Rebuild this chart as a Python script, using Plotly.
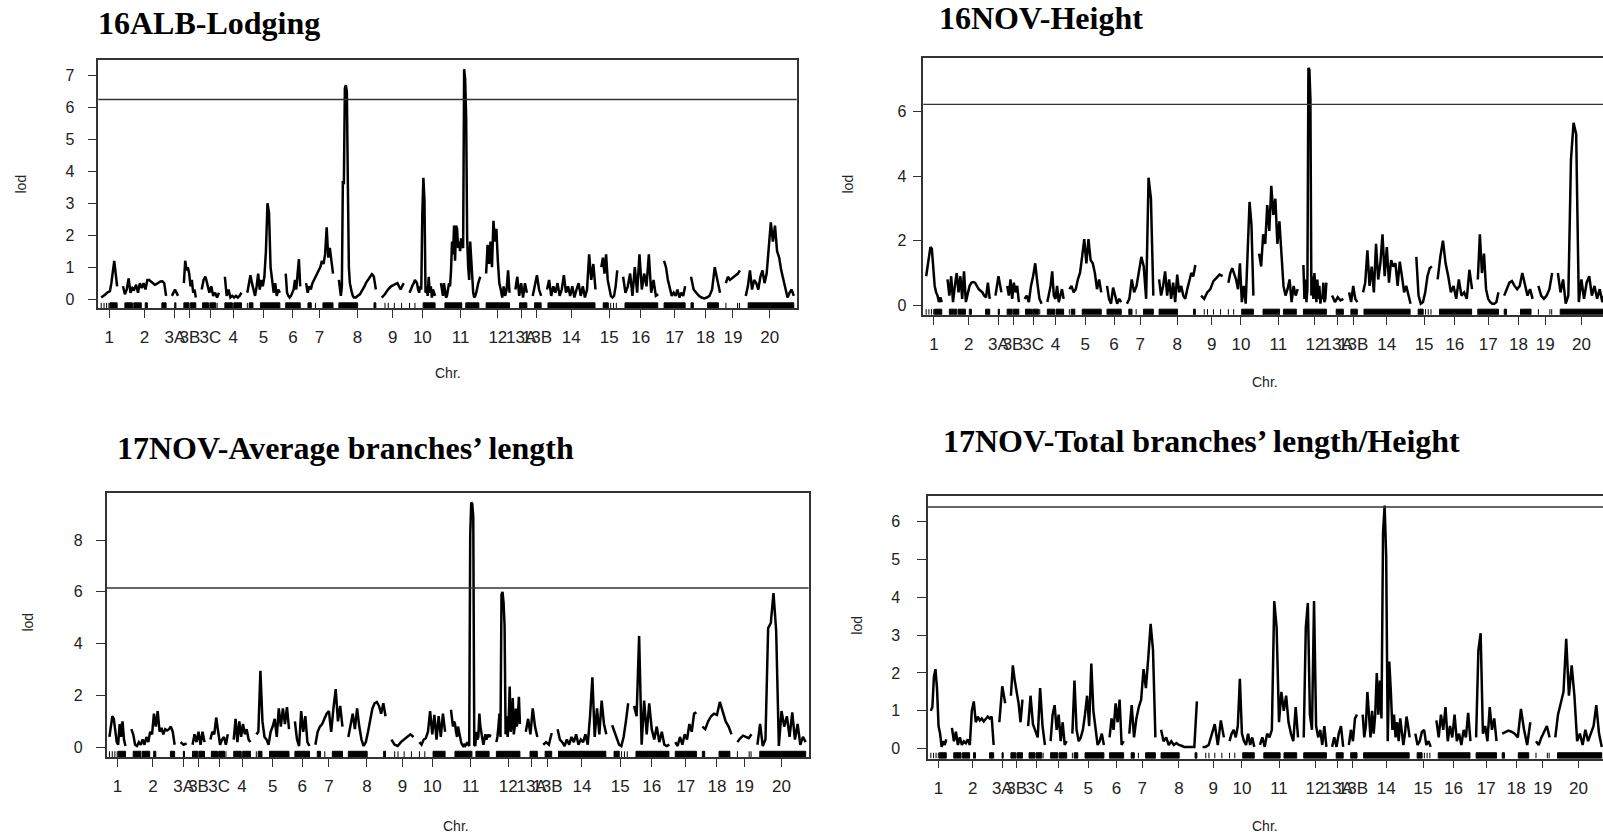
import plotly.graph_objects as go

W, H = 1603, 837

# ---- genetic map -----------------------------------------------------------
chromosomes = ["1", "2", "3A", "3B", "3C", "4", "5", "6", "7", "8", "9", "10",
               "11", "12", "13A", "13B", "14", "15", "16", "17", "18", "19", "20"]
chrom_length_cM = [68, 184, 26, 51, 74, 71, 139, 62, 115, 158, 94, 109,
                   168, 100, 49, 36, 207, 68, 150, 90, 124, 60, 205]
GAP_CM = 25

# marker clusters per chromosome, cM from chromosome start ([a, a] = single marker)
marker_clusters = [
    [[0, 0], [12, 12], [23, 23], [33, 33], [37, 68]],
    [[8, 40], [46, 78], [95, 104], [166, 184]],
    [[12, 17]],
    [[0, 22], [27, 51]],
    [[4, 30], [35, 60], [66, 66]],
    [[0, 32], [38, 71]],
    [[0, 0], [8, 24], [56, 139]],
    [[0, 62]],
    [[8, 22], [40, 40], [72, 115]],
    [[0, 80], [150, 158]],
    [[14, 14], [28, 28], [54, 54], [85, 85]],
    [[0, 0], [23, 23], [58, 109]],
    [[17, 89], [106, 162]],
    [[0, 100]],
    [[18, 49]],
    [[8, 36]],
    [[4, 205]],
    [[8, 30], [40, 40], [52, 52], [64, 64]],
    [[8, 148]],
    [[0, 90]],
    [[0, 10], [71, 117]],
    [[0, 0], [50, 50], [58, 58]],
    [[10, 205]],
]

# ---- LOD profiles, one list per chromosome (evenly spaced along it) -----------
lod_16alb_lodging = [
    [0.05, 0.08, 0.12, 0.15, 0.2, 0.22, 0.25, 0.5, 0.9, 1.2, 0.8, 0.4],
    [0.4, 0.15, 0.3, 0.65, 0.2, 0.35, 0.3, 0.45, 0.2, 0.5, 0.35, 0.5, 0.3, 0.6, 0.6, 0.55,
     0.5, 0.45, 0.48, 0.52, 0.55, 0.56, 0.5, 0.1],
    [0.1, 0.3, 0.1],
    [0.5, 1.2, 0.9, 1.0, 0.8, 0.4, 0.6, 0.2, 0.3, 0.05],
    [0.3, 0.6, 0.7, 0.4, 0.2, 0.4, 0.1, 0.2, 0.05, 0.2],
    [0.7, 0.1, 0.3, 0.05, 0.1, 0.05, 0.1, 0.05, 0.1, 0.2],
    [0.2, 0.5, 0.75, 0.5, 0.3, 0.1, 0.4, 0.8, 0.3, 0.6, 0.4, 0.7, 1.5, 3.0, 2.7, 1.0, 0.6,
     0.2, 0.5, 0.1, 0.3, 0.2],
    [0.8, 0.2, 0.1, 0.05, 0.1, 0.2, 0.3, 0.6, 0.3, 0.8, 1.25, 0.4],
    [0.5, 0.2, 0.4, 0.3, 0.5, 0.6, 0.7, 0.8, 0.9, 1.0, 1.2, 1.1, 1.4, 2.25, 1.3, 1.6, 1.2, 0.8],
    [0.6, 0.3, 0.1, 0.4, 3.7, 3.6, 6.6, 6.7, 6.5, 3.6, 1.0, 0.5, 0.3, 0.2, 0.1, 0.05, 0.05,
     0.05, 0.08, 0.1, 0.12, 0.15, 0.2, 0.25, 0.3, 0.35, 0.42, 0.5, 0.55, 0.6, 0.65, 0.7,
     0.75, 0.78, 0.75, 0.7, 0.5, 0.3],
    [0.05, 0.15, 0.3, 0.4, 0.45, 0.5, 0.3, 0.5],
    [0.2, 0.3, 0.35, 0.45, 0.5, 0.6, 0.55, 0.5, 0.3, 0.2, 0.4, 0.3, 2.7, 3.8, 3.1, 0.2, 0.4,
     0.1, 0.7, 0.2, 0.4, 0.05, 0.3, 0.2, 0.1],
    [0.5, 0.3, 0.1, 0.5, 0.2, 0.05, 0.1, 0.3, 0.5, 0.4, 0.9, 1.8, 1.4, 2.3, 1.2, 2.3, 2.2,
     1.6, 1.8, 1.5, 1.9, 1.7, 1.6, 7.2, 6.9, 5.7, 1.9, 1.0, 0.6, 1.8, 1.2, 0.5, 0.2, 0.05,
     0.1, 0.2, 0.4, 0.5, 0.6, 0.7],
    [0.8, 1.7, 1.1, 1.8, 1.0, 2.45, 1.8, 2.2, 1.2, 0.5, 0.3, 0.05, 0.4, 0.1, 0.3, 0.9, 0.2],
    [0.3, 0.7, 0.1, 0.5, 0.05, 0.5, 0.2],
    [0.1, 0.4, 0.75, 0.3, 0.1],
    [0.3, 0.6, 0.1, 0.4, 0.2, 0.5, 0.1, 0.3, 0.75, 0.2, 0.4, 0.1, 0.4, 0.05, 0.3, 0.5, 0.1,
     0.4, 0.05, 0.3, 1.4, 0.6, 1.1, 0.3],
    [1.0, 1.3, 0.8, 1.4, 0.6, 0.3, 0.1, 0.05, 0.1, 0.4, 0.9],
    [0.7, 0.2, 0.4, 0.8, 0.1, 1.0, 0.2, 1.4, 0.3, 0.8, 0.4, 1.4, 0.2, 0.6, 0.1, 0.15],
    [1.2, 1.0, 0.6, 0.3, 0.1, 0.2, 0.1, 0.3, 0.05, 0.2, 0.1, 0.4],
    [0.7, 0.3, 0.2, 0.1, 0.05, 0.02, 0.05, 0.1, 0.3, 1.0, 0.6, 0.2],
    [0.5, 0.7, 0.6, 0.65, 0.7, 0.75, 0.8, 0.9],
    [0.1, 0.4, 0.9, 0.3, 0.6, 0.5, 0.3, 0.7, 0.9, 0.5, 0.8, 1.5, 2.4, 1.8, 2.3, 1.5, 1.3,
     0.9, 0.6, 0.3, 0.05, 0.2, 0.3, 0.1],
]

lod_16nov_height = [
    [0.9, 1.2, 1.5, 1.8, 1.75, 1.2, 0.6, 0.4, 0.3, 0.1, 0.25, 0.1],
    [0.8, 0.3, 0.9, 0.1, 0.6, 1.0, 0.4, 0.9, 0.2, 1.05, 0.1, 0.4, 0.6, 0.7, 0.72, 0.7, 0.6,
     0.5, 0.45, 0.4, 0.3, 0.25, 0.7, 0.2],
    [0.3, 0.9, 0.4],
    [0.6, 0.3, 0.8, 0.2, 0.7, 0.4, 0.6, 0.1],
    [0.2, 0.3, 0.1, 0.6, 0.9, 1.3, 0.7, 0.2, 0.05],
    [0.1, 0.4, 0.6, 1.05, 0.3, 0.2, 0.6, 0.1, 0.3, 0.5, 0.2],
    [0.5, 0.6, 0.4, 0.5, 0.8, 1.0, 1.5, 2.05, 1.3, 2.05, 1.4, 1.3, 1.0, 0.5, 0.8, 0.4],
    [0.6, 0.2, 0.05, 0.55, 0.3, 0.05, 0.2, 0.1],
    [0.05, 0.2, 0.8, 0.4, 0.6, 1.0, 1.5, 1.2, 0.2, 3.95, 3.3, 0.3],
    [0.8, 0.3, 0.6, 1.05, 0.3, 0.8, 0.2, 0.7, 0.1, 0.95, 0.4, 0.6, 0.3, 0.2, 0.5, 0.8, 1.0,
     0.9, 1.25],
    [0.3, 0.2, 0.4, 0.5, 0.75, 0.85, 0.95, 0.9],
    [0.7, 1.0, 1.15, 1.0, 0.8, 0.5, 1.3, 0.1, 0.6, 0.05, 2.0, 3.2, 2.5, 0.3],
    [1.6, 1.2, 2.2, 1.9, 3.1, 2.3, 3.7, 2.8, 3.3, 1.9, 2.6, 1.4, 0.6, 0.3, 0.5, 0.8, 0.1,
     0.6, 0.3, 0.5],
    [1.25, 0.2, 0.8, 0.1, 0.5, 7.35, 7.3, 6.4, 0.3, 0.9, 0.2, 1.0, 0.5, 0.1, 0.8, 0.2, 0.6,
     0.05, 0.3, 0.2, 0.7, 0.1, 0.2, 0.7],
    [0.3, 0.1, 0.25, 0.15, 0.2],
    [0.4, 0.1, 0.6, 0.2, 0.1],
    [0.4, 0.7, 1.7, 0.6, 1.2, 0.4, 1.9, 0.8, 1.3, 2.2, 0.9, 1.8, 0.7, 1.4, 1.2, 1.3, 0.6,
     1.35, 0.9, 0.4, 0.6, 0.3, 0.05],
    [1.5, 0.3, 0.05, 0.1, 0.4, 0.9, 1.15, 1.2],
    [0.8, 1.5, 2.0, 1.3, 0.9, 0.4, 0.6, 0.2, 0.8, 0.3, 0.4, 0.2, 1.1, 0.5],
    [0.8, 2.2, 1.0, 1.6, 0.5, 0.2, 0.1, 0.05, 0.05, 0.1, 0.4],
    [0.3, 0.5, 0.7, 0.75, 0.6, 0.5, 0.6, 1.0, 0.6, 0.3, 0.5, 0.2],
    [0.6, 0.3, 0.2, 0.3, 0.5, 1.0],
    [1.0, 0.4, 0.8, 0.05, 0.3, 4.5, 5.65, 5.3, 0.1, 0.8, 0.2, 0.7, 0.9, 0.3, 0.6, 0.2, 0.5,
     0.1, 0.4],
]

lod_17nov_avg_branch = [
    [0.4, 0.8, 1.2, 1.1, 0.5, 0.2, 0.1, 0.9, 0.4, 1.0, 0.3, 0.05],
    [0.7, 0.5, 0.1, 0.05, 0.2, 0.1, 0.3, 0.1, 0.4, 0.2, 0.6, 0.5, 1.3, 0.8, 1.4, 0.6, 0.75,
     0.5, 0.7, 0.65, 0.7, 0.8, 0.6, 0.1],
    [0.2, 0.1, 0.15],
    [0.1, 0.5, 0.2, 0.6, 0.1, 0.6, 0.2],
    [0.3, 0.6, 0.5, 1.15, 0.6, 0.1, 0.3, 0.4, 0.1, 0.5],
    [0.3, 1.1, 0.2, 1.0, 0.4, 0.9, 0.5, 0.7, 0.3, 0.2],
    [0.5, 0.6, 2.95, 1.0, 0.4, 0.3, 0.1, 0.6, 0.8, 1.1, 0.4, 1.5, 0.8, 1.5, 0.9, 1.55, 0.7],
    [1.0, 0.3, 0.05, 1.4, 0.6, 1.2, 0.2, 0.05],
    [0.1, 0.6, 0.8, 0.9, 1.1, 1.3, 1.4, 0.6, 1.5, 2.25, 1.0, 1.6, 0.8],
    [0.4, 0.8, 1.3, 0.7, 1.5, 0.8, 0.3, 0.05, 0.2, 0.6, 1.1, 1.5, 1.7, 1.75, 1.6, 1.3, 1.7, 1.2],
    [0.3, 0.1, 0.05, 0.2, 0.3, 0.4, 0.5, 0.4],
    [0.2, 0.1, 0.3, 0.35, 0.6, 1.4, 0.5, 1.25, 0.3, 1.2, 0.4, 1.3, 0.6],
    [1.45, 1.2, 0.8, 1.0, 0.9, 0.6, 0.4, 0.8, 0.6, 0.3, 0.2, 0.1, 0.05, 0.1, 0.05, 0.1, 0.2,
     0.1, 0.05, 8.2, 9.45, 9.4, 8.9, 0.1, 0.05, 0.6, 0.3, 0.4, 1.3, 0.8, 0.5, 0.2, 0.1, 0.3,
     0.5, 0.3, 0.4, 0.5, 0.4, 0.5],
    [0.2, 0.4, 0.8, 1.3, 0.4, 5.9, 6.0, 5.6, 4.7, 0.5, 1.2, 0.4, 1.0, 2.35, 0.6, 0.9, 1.9,
     0.5, 0.8, 1.5, 0.8, 1.2, 1.95, 0.9],
    [0.6, 1.1, 0.5, 1.5, 0.8, 0.4],
    [0.1, 0.2, 0.1, 0.55],
    [0.7, 0.3, 0.2, 0.05, 0.3, 0.1, 0.4, 0.2, 0.5, 0.1, 0.3, 0.2, 0.5, 0.1, 1.2, 2.7, 0.4,
     1.5, 0.5, 1.8, 0.9, 0.5],
    [0.85, 0.6, 0.3, 0.1, 0.05, 0.4, 1.0, 1.7],
    [1.6, 1.2, 4.3, 0.1, 1.8, 0.5, 1.7, 0.7, 0.3, 0.8, 0.2, 0.6, 0.1, 0.05, 0.1],
    [0.2, 0.05, 0.4, 0.1, 0.5, 0.3, 0.9, 0.6, 1.3, 1.35],
    [0.8, 0.7, 1.0, 1.2, 1.3, 1.25, 1.75, 1.4, 1.0, 0.8, 0.5],
    [0.2, 0.35, 0.45, 0.4, 0.35, 0.5],
    [0.1, 0.9, 0.05, 0.3, 4.6, 4.8, 5.95, 4.5, 0.05, 1.4, 0.8, 1.2, 0.4, 1.35, 0.3, 0.9,
     0.1, 0.4, 0.2],
]

lod_17nov_total_branch_height = [
    [1.0, 1.1, 1.9, 2.1, 1.6, 0.6, 0.4, 0.05, 0.2, 0.1, 0.25],
    [0.55, 0.2, 0.45, 0.1, 0.3, 0.1, 0.2, 0.15, 0.25, 0.1, 1.0, 1.25, 0.7, 0.85, 0.75, 0.8,
     0.72, 0.8, 0.85, 0.8, 0.85, 0.1],
    [0.7, 1.65, 1.2],
    [1.4, 2.2, 1.8, 1.5, 1.2, 0.7, 1.3],
    [0.6, 1.4, 0.65, 0.5, 0.3, 1.6, 0.6, 0.1],
    [0.2, 0.9, 1.15, 0.5, 0.9, 0.2, 0.7, 0.1, 0.2],
    [0.4, 1.8, 0.5, 0.2, 0.3, 0.5, 0.9, 1.4, 0.6, 2.25, 1.0, 0.5, 0.1, 0.2, 0.4, 0.1],
    [0.3, 0.8, 0.5, 1.2, 0.7, 1.3, 0.1, 0.2],
    [0.4, 1.15, 0.3, 0.8, 1.1, 1.3, 2.1, 1.6, 2.4, 3.3, 2.6, 0.3],
    [0.5, 0.2, 0.3, 0.1, 0.2, 0.1, 0.15, 0.1, 0.08, 0.05, 0.05, 0.05, 0.05, 0.05, 1.25],
    [0.05, 0.05, 0.1, 0.4, 0.65, 0.1, 0.75, 0.3],
    [0.2, 0.4, 0.5, 0.3, 0.6, 1.85, 0.4, 0.2, 0.1, 0.4, 0.1, 0.3, 0.05],
    [0.1, 0.3, 0.05, 0.4, 0.3, 0.5, 3.9, 3.2, 0.7, 1.5, 1.0, 1.4, 0.7, 0.4, 0.2, 1.1, 0.3],
    [0.3, 3.2, 3.85, 0.9, 0.5, 3.9, 0.6, 0.3, 0.5, 0.1, 0.6, 0.05],
    [0.05, 0.3, 0.05, 0.4, 0.6, 0.05],
    [0.1, 0.5, 0.2, 0.8, 0.9],
    [0.9, 0.3, 0.6, 1.5, 0.9, 0.3, 1.0, 0.4, 0.9, 2.0, 0.9, 1.8, 0.8, 5.7, 6.42, 5.1, 0.2,
     2.3, 1.5, 0.5, 0.9, 0.3, 0.7, 0.2, 0.8, 0.5, 0.1, 0.4, 0.85, 0.6, 0.3],
    [0.4, 0.1, 0.2, 0.45, 0.5, 0.1, 0.2, 0.05],
    [0.75, 0.3, 0.9, 0.5, 1.1, 0.2, 0.6, 0.3, 0.9, 0.2, 0.4, 0.1, 0.5, 0.3, 0.95, 0.2],
    [0.3, 2.6, 3.05, 0.4, 0.6, 0.2, 1.1, 0.5, 0.8, 0.2],
    [0.4, 0.45, 0.48, 0.45, 0.4, 0.3, 1.05, 0.5, 0.1, 0.7],
    [0.2, 0.1, 0.3, 0.45, 0.6, 0.3],
    [0.3, 0.9, 1.2, 1.5, 2.9, 1.4, 2.2, 1.4, 0.2, 0.4, 0.1, 0.5, 0.2, 0.4, 0.6, 1.15, 0.4, 0.05],
]

titles = ["16ALB-Lodging", "16NOV-Height",
          "17NOV-Average branches\u2019 length",
          "17NOV-Total branches\u2019 length/Height"]
lod_thresholds = [6.25, 6.22, 6.15, 6.38]
y_tick_step = [1, 2, 2, 1]

# ---- panel frames (pixels) and text placement ------------------------------
panels = [
    dict(lod=lod_16alb_lodging, box=(98.3, 60.0, 796.7, 308.3), title_xy=(96, 23),
         ylab_xy=(20.5, 184), xlab_xy=(447.5, 373), ystand=10),
    dict(lod=lod_16nov_height, box=(923.3, 58.4, 1607.8, 314.8), title_xy=(937, 18),
         ylab_xy=(847.5, 184), xlab_xy=(1264.6, 382), ystand=3),
    dict(lod=lod_17nov_avg_branch, box=(106.5, 492.7, 808.6, 757.1), title_xy=(115, 448),
         ylab_xy=(27.6, 622), xlab_xy=(456, 826), ystand=10),
    dict(lod=lod_17nov_total_branch_height, box=(928.0, 495.8, 1604.6, 758.5),
         title_xy=(941, 441), ylab_xy=(856.7, 625), xlab_xy=(1264.6, 826), ystand=14),
]

# chromosome layout along the genome axis
starts = []
pos = 0.0
for L in chrom_length_cM:
    starts.append(pos)
    pos += L + GAP_CM
map_end = starts[-1] + chrom_length_cM[-1]
x_lo, x_hi = -GAP_CM / 2, map_end + GAP_CM / 2
mids = [s + L / 2 for s, L in zip(starts, chrom_length_cM)]

LINE = "#333333"
TXT = "#222222"
SANS = "Liberation Sans, Arial, sans-serif"
SERIF = "Liberation Serif, Times New Roman, serif"

fig = go.Figure()
layout = dict(width=W, height=H, margin=dict(l=0, r=0, t=0, b=0),
              paper_bgcolor="white", plot_bgcolor="white", showlegend=False)
annotations = []
shapes = []

for i, p in enumerate(panels):
    k = "" if i == 0 else str(i + 1)
    xa, ya = "x" + k, "y" + k
    left, top, right, bottom = p["box"]
    vis_right = min(right, W)
    frac = (vis_right - left) / (right - left)
    x_range = [x_lo, x_lo + (x_hi - x_lo) * frac]

    lod = p["lod"]
    ymax = max(max(c) for c in lod)
    y_range = [-0.04 * ymax, 1.04 * ymax]
    span = y_range[1] - y_range[0]

    # LOD curve, broken between chromosomes
    xs, ys = [], []
    for s, L, vals in zip(starts, chrom_length_cM, lod):
        n = len(vals)
        for j, v in enumerate(vals):
            xs.append(s + L * j / (n - 1))
            ys.append(v)
        xs.append(None)
        ys.append(None)
    fig.add_trace(go.Scatter(x=xs, y=ys, mode="lines", xaxis=xa, yaxis=ya,
                             line=dict(color="black", width=2.5), hoverinfo="skip"))

    # marker rug along the bottom
    r0, r1 = y_range[0], y_range[0] + 0.022 * span
    bx, by, tx, ty = [], [], [], []
    for s, clusters in zip(starts, marker_clusters):
        for a, b in clusters:
            if b > a:
                bx += [s + a, s + b, s + b, s + a, s + a, None]
                by += [r0, r0, r1, r1, r0, None]
            else:
                tx += [s + a, s + a, None]
                ty += [r0, r1, None]
    fig.add_trace(go.Scatter(x=bx, y=by, mode="lines", fill="toself", fillcolor="black",
                             line=dict(color="black", width=1), xaxis=xa, yaxis=ya,
                             hoverinfo="skip"))
    fig.add_trace(go.Scatter(x=tx, y=ty, mode="lines", line=dict(color="black", width=1),
                             xaxis=xa, yaxis=ya, hoverinfo="skip"))

    # significance threshold
    shapes.append(dict(type="line", xref=xa + " domain", yref=ya, x0=0, x1=1,
                       y0=lod_thresholds[i], y1=lod_thresholds[i],
                       line=dict(color=LINE, width=1.4)))

    layout["xaxis" + k] = dict(
        domain=[left / W, vis_right / W], range=x_range, anchor=ya,
        tickmode="array", tickvals=mids, ticktext=chromosomes, tickangle=0,
        ticks="outside", ticklen=8, tickwidth=1.2, tickcolor=LINE,
        tickfont=dict(family=SANS, size=17, color=TXT), ticklabelstandoff=5,
        showline=True, linecolor=LINE, linewidth=1.5, mirror=True,
        showgrid=False, zeroline=False, fixedrange=True)
    layout["yaxis" + k] = dict(
        domain=[1 - bottom / H, 1 - top / H], range=y_range, anchor=xa,
        tickmode="linear", tick0=0, dtick=y_tick_step[i],
        ticks="outside", ticklen=9, tickwidth=1.2, tickcolor=LINE,
        tickfont=dict(family=SANS, size=16, color=TXT), ticklabelstandoff=p["ystand"],
        showline=True, linecolor=LINE, linewidth=1.5, mirror=(right <= W),
        showgrid=False, zeroline=False, fixedrange=True)

    tx_, ty_ = p["title_xy"]
    annotations.append(dict(text=titles[i], x=tx_ / W, y=1 - ty_ / H, xref="paper",
                            yref="paper", xanchor="left", yanchor="middle", showarrow=False,
                            font=dict(family=SERIF, size=32, color="black", weight="bold")))
    lx, ly = p["ylab_xy"]
    annotations.append(dict(text="lod", x=lx / W, y=1 - ly / H, xref="paper", yref="paper",
                            xanchor="center", yanchor="middle", textangle=-90,
                            showarrow=False, font=dict(family=SANS, size=14, color=TXT)))
    cx, cy = p["xlab_xy"]
    annotations.append(dict(text="Chr.", x=cx / W, y=1 - cy / H, xref="paper", yref="paper",
                            xanchor="center", yanchor="middle", showarrow=False,
                            font=dict(family=SANS, size=14, color=TXT)))

layout["annotations"] = annotations
layout["shapes"] = shapes
fig.update_layout(**layout)
fig.write_html("out.html")
